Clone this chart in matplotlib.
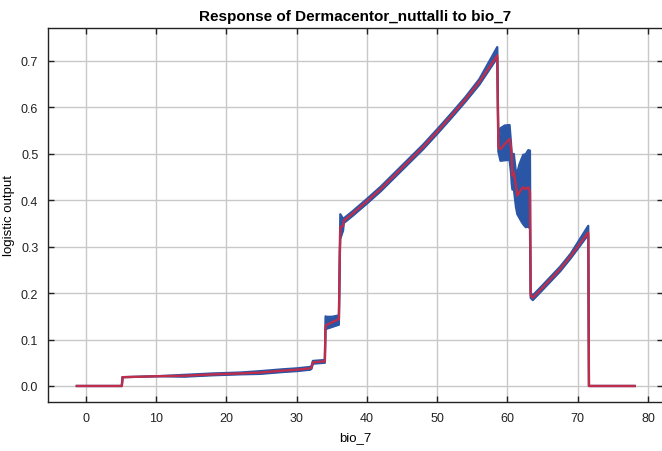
import matplotlib
matplotlib.use("Agg")
import matplotlib.pyplot as plt
import numpy as np

# ---- data ----
x_vals = [-1.3, 5.1, 5.2, 8, 10, 14, 18, 21.9, 24.8, 28, 30, 31.9, 32.1, 32.3,
          34.0, 34.1, 34.2, 35.0, 36.0, 36.15, 36.2, 36.6, 36.7, 38, 40, 42,
          44, 46, 48, 50, 52, 54, 56, 58.55, 58.7, 59.0, 59.6, 60.3, 60.5,
          60.6, 60.7, 60.9, 61.2, 61.4, 61.7, 62.0, 62.25, 62.6, 62.96, 63.2,
          63.3, 63.6, 65, 67.5, 69, 71.5, 71.6, 78.1]
mean_vals = [0.0, 0.0, 0.019, 0.020, 0.021, 0.022, 0.025, 0.027, 0.029, 0.033,
             0.035, 0.038, 0.040, 0.051, 0.053, 0.130, 0.131, 0.137, 0.144,
             0.300, 0.342, 0.345, 0.356, 0.372, 0.398, 0.425, 0.455, 0.485,
             0.515, 0.548, 0.582, 0.617, 0.655, 0.712, 0.515, 0.510, 0.521,
             0.532, 0.514, 0.496, 0.453, 0.460, 0.431, 0.410, 0.417, 0.424,
             0.428, 0.424, 0.428, 0.417, 0.195, 0.190, 0.212, 0.252, 0.280,
             0.331, 0.0, 0.0]
sd_up = [0.0, 0.0, 0.0, 0.0, 0.0, 0.002, 0.002, 0.002, 0.003, 0.003,
         0.003, 0.003, 0.003, 0.003, 0.003, 0.020, 0.018, 0.012, 0.008,
         0.010, 0.028, 0.015, 0.005, 0.005, 0.005, 0.005, 0.005, 0.005,
         0.005, 0.005, 0.005, 0.005, 0.006, 0.018, 0.010, 0.045, 0.040,
         0.030, 0.010, 0.006, 0.045, 0.040, 0.030, 0.050, 0.060, 0.065,
         0.070, 0.075, 0.080, 0.090, 0.005, 0.005, 0.005, 0.005, 0.005,
         0.014, 0.0, 0.0]
sd_dn = [0.0, 0.0, 0.0, 0.0, 0.0, 0.002, 0.002, 0.002, 0.003, 0.003,
         0.003, 0.003, 0.003, 0.003, 0.003, 0.007, 0.008, 0.010, 0.012,
         0.010, 0.025, 0.010, 0.005, 0.005, 0.005, 0.005, 0.005, 0.005,
         0.005, 0.005, 0.005, 0.005, 0.006, 0.005, 0.010, 0.025, 0.035,
         0.045, 0.055, 0.060, 0.030, 0.035, 0.045, 0.040, 0.055, 0.070,
         0.080, 0.082, 0.085, 0.078, 0.005, 0.005, 0.005, 0.005, 0.005,
         0.005, 0.0, 0.0]

x_ticks = [0, 10, 20, 30, 40, 50, 60, 70, 80]
y_ticks = [0.0, 0.1, 0.2, 0.3, 0.4, 0.5, 0.6, 0.7]

title = "Response of Dermacentor_nuttalli to bio_7"
x_label = "bio_7"
y_label = "logistic output"

# ---- drawing ----
plt.rcParams['font.family'] = ['Liberation Sans', 'DejaVu Sans']
W, H = 662, 452
fig = plt.figure(figsize=(W / 100, H / 100), dpi=100)
ax = fig.add_axes([48 / W, (H - 403) / H, (663 - 48) / W, (403 - 29) / H])

x = np.array(x_vals)
m = np.array(mean_vals)
up = m + np.array(sd_up)
dn = m - np.array(sd_dn)

blue = "#2b56a6"
red = "#f0202c"
ax.fill_between(x, dn, up, color=blue, lw=0, zorder=2)
ax.plot(x, up, color=blue, lw=1.6, zorder=2, solid_joinstyle='round')
ax.plot(x, dn, color=blue, lw=1.6, zorder=2, solid_joinstyle='round')
ax.plot(x, m, color=red, lw=1.7, alpha=0.75, zorder=3)

ax.set_xlim(-5.41, 82.14)
ax.set_ylim(-0.0345, 0.771)
ax.set_xticks(x_ticks)
ax.set_yticks(y_ticks)
ax.set_yticklabels([f"{v:.1f}" for v in y_ticks])
ax.grid(True, color="#c8c8c8", lw=1.0, zorder=0)
ax.set_axisbelow(True)
ax.tick_params(direction='in', length=4, width=1, top=True, right=True,
               labelsize=9, colors='#222222', pad=7)
for s in ax.spines.values():
    s.set_color('#222222')
    s.set_linewidth(1.0)

ax.set_title(title, fontsize=11, fontweight='bold', pad=6)
ax.set_xlabel(x_label, fontsize=9.5, labelpad=5)
ax.set_ylabel(y_label, fontsize=9.5, labelpad=4)

fig.savefig("out.png", dpi=100)
